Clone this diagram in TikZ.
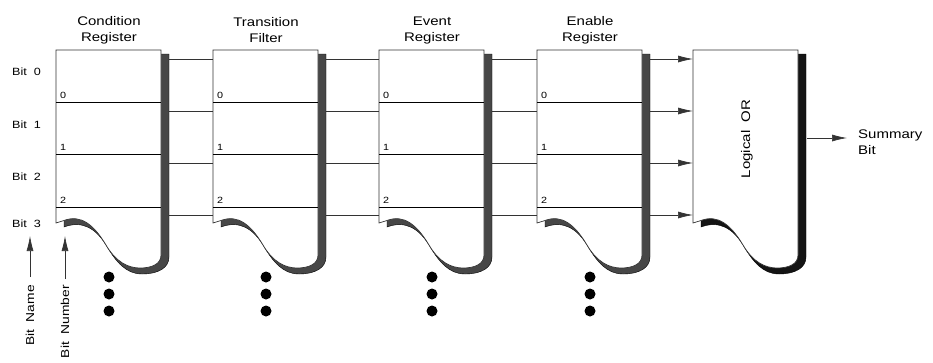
\documentclass[tikz,border=0pt]{standalone}
\usepackage{fontspec}
\setmainfont{Liberation Sans}[FakeStretch=1.2]
\usetikzlibrary{positioning,arrows.meta}

% outline of one register, #1 = left edge
\def\regoutline#1{({#1},50) -- ({#1+105},50) -- ({#1+105},255)
  .. controls ({#1+105},264) and ({#1+96},268) .. ({#1+84},268)
  .. controls ({#1+72},268) and ({#1+60},262) .. ({#1+50},245)
  .. controls ({#1+38},225) and ({#1+25},214) .. ({#1+8},220.5)
  -- ({#1},223) -- cycle}
% its shadow, drawn first and covered by the outline
\def\regshadow#1{({#1+8},60) -- ({#1+105},54) -- ({#1+113},54) -- ({#1+113},257)
  .. controls ({#1+113},268) and ({#1+102},274) .. ({#1+86},274)
  .. controls ({#1+70},274) and ({#1+60},262) .. ({#1+50},245)
  .. controls ({#1+40},229) and ({#1+27},220) .. ({#1+8},227)
  -- cycle}

\begin{document}
\begin{tikzpicture}[
    x=1pt, y=-1pt,
    reg/.style={draw=black!80, fill=white, line width=0.7pt},
    regshade/.style={fill=black!72, draw=black, line width=0.4pt},
    orshade/.style={fill=black!92, draw=black, line width=0.4pt},
    cell/.style={draw=black, line width=0.6pt},
    wire/.style={draw=black!80, line width=0.7pt},
    title/.style={font=\fontsize{12.5}{16}\selectfont, align=center},
    lbl/.style={font=\fontsize{10.5}{12}\selectfont, inner sep=0pt},
    vlbl/.style={font=\fontsize{11.5}{14}\selectfont, inner sep=0pt, rotate=90, anchor=east},
    num/.style={font=\fontsize{9}{10}\selectfont, inner sep=0pt},
    >={Latex[length=15pt,width=7pt]}
]
\useasboundingbox (0,0) rectangle (933,362);

\foreach \x/\name/\txt in {56/cond/{Condition\\Register}, 213/trans/{Transition\\Filter},
    379/event/{Event\\Register}, 537/enable/{Enable\\Register}} {
  \filldraw[regshade] \regshadow{\x};
  \filldraw[reg] \regoutline{\x};
  \foreach \y/\b in {102/0, 154/1, 207/2} {
    \draw[cell] (\x,\y) -- ({\x+105},\y);
    \node[num, anchor=south west] (\name-num\b) at ({\x+4},{\y-3}) {\b};
  }
  \node[title] (\name) at ({\x+53},30) {\txt};
  \foreach \y in {277, 294, 311}
    \fill ({\x+53},\y) circle (5.5pt);
  \foreach \y [count=\b from 0] in {59, 111, 163, 215} {
    \coordinate (\name-in\b) at (\x,\y);
    \coordinate (\name-out\b) at ({\x+113},\y);
  }
}

% logical OR block
\filldraw[orshade] \regshadow{693};
\filldraw[reg] \regoutline{693};
\node[title, rotate=90] (lor) at (747,139) {Logical~~OR};
\foreach \y [count=\b from 0] in {59, 111, 163, 215}
  \coordinate (lor-in\b) at (693,\y);
\coordinate (lor-out) at (807,138);
\node[title, align=left, anchor=west, inner sep=0pt] (sum) at (858,142) {Summary\\Bit};

\foreach \a/\c in {cond/trans, trans/event, event/enable}
  \foreach \b in {0,...,3}
    \draw[wire] (\a-out\b) -- (\c-in\b);
\foreach \b in {0,...,3}
  \draw[wire,->] (enable-out\b) -- (lor-in\b);
\draw[wire,->] (lor-out) -- ([xshift=-11pt]lor-out -| sum.west);

% bit labels
\foreach \y/\b in {72/0, 125/1, 177/2, 224/3}
  \node[lbl, anchor=west] (bit\b) at (12,\y) {Bit~~\b};
\node[vlbl] (bitname) at (30,285) {Bit~~Name};
\node[vlbl] (bitnum) at (65,285) {Bit~~Number};
\coordinate (bitname-tip) at (30,236);
\coordinate (bitnum-tip) at (65,236);
\draw[wire,->, shorten <=8pt] (bitname) -- (bitname-tip);
\draw[wire,->, shorten <=6pt] (bitnum) -- (bitnum-tip);

\end{tikzpicture}
\end{document}
